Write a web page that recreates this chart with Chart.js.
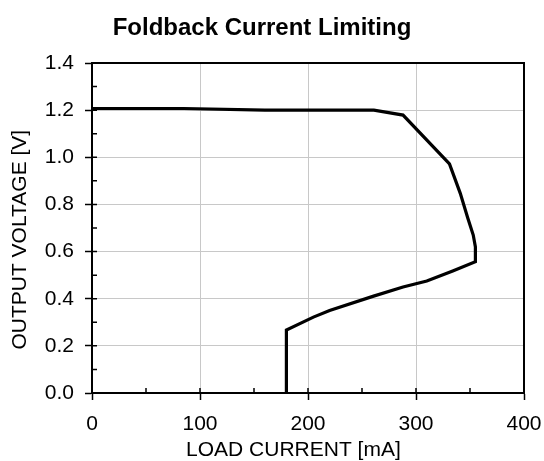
<!DOCTYPE html>
<html>
<head>
<meta charset="utf-8">
<script src="https://cdn.jsdelivr.net/npm/chart.js@4"></script>
<style>
  body { margin: 0; background: #fff; }
  #wrap { width: 544px; height: 461px; }
</style>
</head>
<body>
<div id="wrap"><canvas id="chart"></canvas></div>
<script>
// values
const loadCurrent = [0, 85, 160, 261, 288, 331, 341, 348, 353, 355, 355, 334, 310, 288, 260, 220, 205, 180, 180];
const outputVoltage = [1.207, 1.207, 1.200, 1.200, 1.179, 0.972, 0.847, 0.741, 0.670, 0.620, 0.557, 0.518, 0.475, 0.450, 0.410, 0.350, 0.322, 0.267, 0.000];

const xInnerTicks = [50, 100, 150, 200, 250, 300, 350];
const yInnerTicks = [0.1, 0.2, 0.3, 0.4, 0.5, 0.6, 0.7, 0.8, 0.9, 1.0, 1.1, 1.2, 1.3];

const points = loadCurrent.map((c, i) => ({ x: c, y: outputVoltage[i] }));

// axis titles sit a bit off centre in the reference, trailing spaces push them over
const pad = n => '\u00a0'.repeat(n);

// inner tick marks and the black frame round the plot
const frame = {
    id: 'frame',
    beforeDatasetsDraw(chart) {
        const { ctx, chartArea: a, scales: { x, y } } = chart;
        ctx.save();
        ctx.strokeStyle = '#000';
        ctx.lineWidth = 1.5;
        ctx.beginPath();
        xInnerTicks.forEach(v => {
            const px = x.getPixelForValue(v);
            ctx.moveTo(px, a.bottom);
            ctx.lineTo(px, a.bottom - 5);
        });
        yInnerTicks.forEach(v => {
            const py = y.getPixelForValue(v);
            ctx.moveTo(a.left, py);
            ctx.lineTo(a.left + 5, py);
        });
        ctx.stroke();
        ctx.lineWidth = 2;
        ctx.strokeRect(a.left, a.top, a.right - a.left, a.bottom - a.top);
        ctx.restore();
    }
};

Chart.defaults.color = '#000';
Chart.defaults.font.family = '"Liberation Sans", Arial, sans-serif';

new Chart(document.getElementById('chart'), {
    type: 'scatter',
    data: {
        datasets: [{
            data: points,
            showLine: true,
            borderColor: '#000',
            borderWidth: 3.2,
            pointRadius: 0,
            tension: 0
        }]
    },
    options: {
        responsive: true,
        maintainAspectRatio: false,
        animation: false,
        layout: { padding: { left: 0, right: 20, top: 0, bottom: 0 } },
        plugins: {
            legend: { display: false },
            tooltip: { enabled: false },
            title: {
                display: true,
                text: 'Foldback Current Limiting',
                font: { size: 24, weight: 'bold' },
                padding: { top: 14, bottom: 20.2 }
            }
        },
        scales: {
            x: {
                type: 'linear',
                min: 0,
                max: 400,
                ticks: { stepSize: 100, font: { size: 21 }, padding: 12 },
                grid: { color: '#c8c8c8', lineWidth: 1, tickColor: '#000', tickLength: 7, tickWidth: 1.5 },
                border: { color: '#000', width: 2 },
                title: { display: true, text: 'LOAD CURRENT [mA]' + pad(5), font: { size: 21 }, padding: { top: 0, bottom: -2 } },
                afterFit(scale) {
                    scale.height = 68;
                    scale.paddingLeft = 0;
                    scale.paddingRight = 0;
                }
            },
            y: {
                type: 'linear',
                min: 0,
                max: 1.4,
                ticks: { stepSize: 0.2, font: { size: 21 }, padding: 11, callback: v => v.toFixed(1) },
                grid: { color: '#c8c8c8', lineWidth: 1, tickColor: '#000', tickLength: 7, tickWidth: 1.5 },
                border: { color: '#000', width: 2 },
                title: { display: true, text: 'OUTPUT VOLTAGE [V]' + pad(4), font: { size: 21 }, padding: { top: 8, bottom: 0 } },
                afterFit(scale) {
                    scale.width = 92;
                    scale.paddingTop = 0;
                    scale.paddingBottom = 0;
                }
            }
        }
    },
    plugins: [frame]
});
</script>
</body>
</html>
